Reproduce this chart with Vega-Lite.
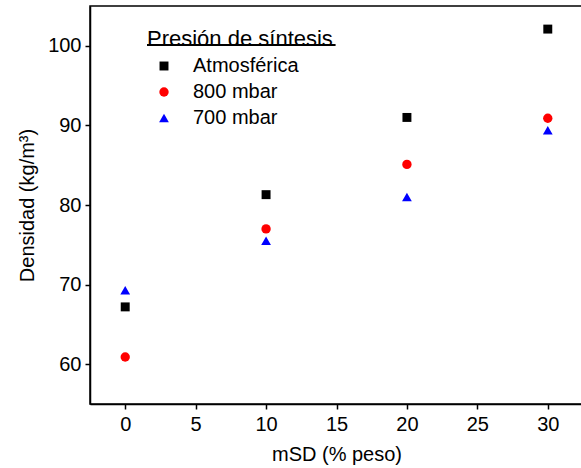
{
  "$schema": "https://vega.github.io/schema/vega-lite/v6.json",
  "width": 493,
  "height": 398,
  "autosize": {"type": "none"},
  "padding": {"left": 90, "top": 6, "right": 0, "bottom": 64},
  "config": {
    "font": "Liberation Sans",
    "view": {"stroke": "black", "strokeWidth": 1.5},
    "axis": {
      "grid": false,
      "domainColor": "black",
      "domainWidth": 1.5,
      "tickColor": "black",
      "tickWidth": 1.5,
      "tickSize": 5,
      "labelColor": "black",
      "labelFontSize": 20,
      "titleFontSize": 20,
      "titleFontWeight": "normal",
      "titleColor": "black"
    }
  },
  "data": {
    "values": [
      {"mSD": 0, "densidad": 67.2, "presion": "Atmosférica"},
      {"mSD": 10, "densidad": 81.3, "presion": "Atmosférica"},
      {"mSD": 20, "densidad": 91.0, "presion": "Atmosférica"},
      {"mSD": 30, "densidad": 102.1, "presion": "Atmosférica"},
      {"mSD": 0, "densidad": 60.9, "presion": "800 mbar"},
      {"mSD": 10, "densidad": 77.0, "presion": "800 mbar"},
      {"mSD": 20, "densidad": 85.1, "presion": "800 mbar"},
      {"mSD": 30, "densidad": 90.9, "presion": "800 mbar"},
      {"mSD": 0, "densidad": 69.3, "presion": "700 mbar"},
      {"mSD": 10, "densidad": 75.5, "presion": "700 mbar"},
      {"mSD": 20, "densidad": 81.0, "presion": "700 mbar"},
      {"mSD": 30, "densidad": 89.4, "presion": "700 mbar"}
    ]
  },
  "layer": [
    {
      "mark": {"type": "point", "filled": true, "opacity": 1},
      "encoding": {
        "x": {
          "field": "mSD", "type": "quantitative",
          "scale": {"domain": [-2.5, 32.5], "nice": false, "zero": false},
          "axis": {"values": [0, 5, 10, 15, 20, 25, 30], "title": "mSD (% peso)", "labelPadding": 5, "titlePadding": 10}
        },
        "y": {
          "field": "densidad", "type": "quantitative",
          "scale": {"domain": [55, 105], "nice": false, "zero": false},
          "axis": {"values": [60, 70, 80, 90, 100], "title": "Densidad (kg/m³)", "labelPadding": 4, "titlePadding": 10}
        },
        "color": {
          "field": "presion", "type": "nominal",
          "scale": {"domain": ["Atmosférica", "800 mbar", "700 mbar"], "range": ["black", "#ff0000", "#0000ff"]},
          "legend": {
            "title": "Presión de síntesis",
            "orient": "none",
            "legendX": 57,
            "legendY": 23,
            "titleFontSize": 22,
            "titleFontWeight": "normal",
            "titleColor": "black",
            "titleLimit": 400,
            "titlePadding": 5,
            "labelFontSize": 20,
            "labelColor": "black",
            "labelLimit": 300,
            "labelOffset": 19,
            "symbolSize": 70,
            "rowPadding": 6,
            "symbolOffset": 7
          }
        },
        "shape": {
          "field": "presion", "type": "nominal",
          "scale": {"domain": ["Atmosférica", "800 mbar", "700 mbar"], "range": ["square", "circle", "triangle-up"]},
          "legend": null
        },
        "size": {
          "field": "presion", "type": "nominal",
          "scale": {"domain": ["Atmosférica", "800 mbar", "700 mbar"], "range": [80, 95, 130]},
          "legend": null
        }
      }
    },
    {
      "mark": {"type": "rule", "color": "black", "strokeWidth": 1.5},
      "encoding": {
        "x": {"datum": 1.55},
        "x2": {"datum": 14.9},
        "y": {"datum": 100.1}
      }
    }
  ]
}
